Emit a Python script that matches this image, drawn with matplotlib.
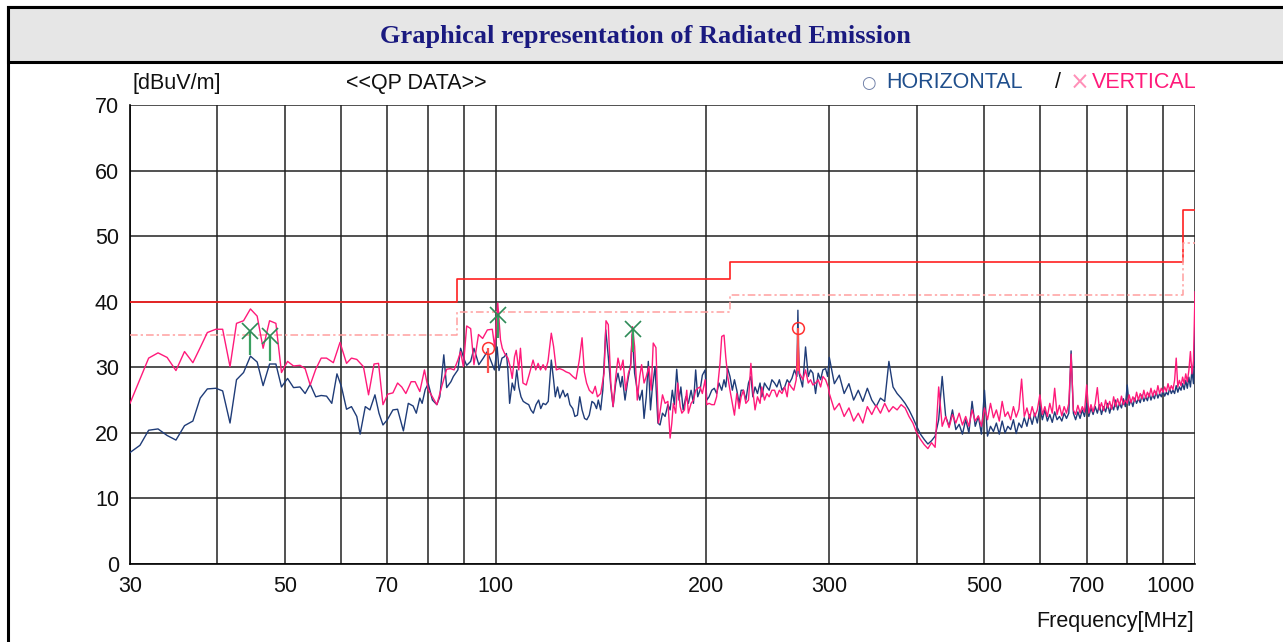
import matplotlib
matplotlib.use("Agg")
import matplotlib.pyplot as plt
from matplotlib.patches import Rectangle
from matplotlib.ticker import NullLocator, FixedLocator, FixedFormatter

plt.rcParams['font.family'] = ['Liberation Sans', 'DejaVu Sans']

# ---------------- data ----------------
# Horizontal polarisation (peak scan) below 300 MHz
h_freq = [30.0, 31.0, 31.9, 32.9, 33.9, 34.9, 35.9, 36.9, 37.8, 38.7, 39.8, 40.7, 41.7, 42.6, 43.6, 44.6,
          45.6, 46.5, 47.5, 48.5, 49.4, 50.4, 51.4, 52.5, 53.4, 54.3, 55.3, 56.3, 57.3, 58.3, 59.3, 60.2,
          61.2, 62.2, 63.3, 64.0, 65.1, 66.1, 67.2, 68.1, 69.0, 70.0, 71.3, 72.4, 73.8, 75.0, 76.2, 77.0,
          77.9, 78.5, 79.3, 80.1, 81.2, 82.4, 83.2, 84.3, 85.1, 86.3, 87.0, 88.3, 89.1, 90.3, 90.9, 92.1,
          93.1, 94.6, 96.0, 97.3, 98.1, 99.6, 100.5, 101.1, 102.1, 102.9, 103.6, 104.1, 104.7, 105.6, 106.4,
          107.2, 107.9, 108.7, 109.5, 110.6, 111.5, 112.3, 113.2, 114.2, 115.2, 116.0, 116.9, 117.9, 118.9,
          120.1, 121.0, 121.7, 122.6, 123.5, 124.8, 125.7, 126.7, 127.7, 128.9, 129.8, 130.9, 131.9, 132.9,
          134.0, 135.0, 136.1, 137.3, 138.4, 139.4, 140.2, 141.3, 142.3, 143.7, 144.9, 146.1, 147.2, 148.5,
          149.6, 150.9, 151.7, 153.1, 154.3, 156.0, 156.8, 158.0, 159.4, 160.7, 162.0, 163.0, 164.2, 165.3,
          166.5, 167.4, 169.0, 170.6, 171.8, 173.2, 174.7, 176.3, 177.6, 178.9, 180.1, 181.5, 182.9, 184.0,
          185.4, 187.0, 188.6, 190.3, 191.8, 193.2, 194.5, 196.0, 197.5, 199.3, 200.4, 201.9, 203.7, 205.4,
          207.0, 208.6, 210.5, 212.1, 213.3, 214.7, 216.3, 218.0, 219.5, 221.2, 222.9, 224.4, 226.1, 227.9,
          229.9, 231.7, 233.2, 234.9, 236.8, 238.8, 240.2, 242.3, 244.2, 246.1, 248.3, 250.5, 252.4, 254.5,
          256.7, 259.0, 261.1, 263.0, 265.2, 267.5, 269.6, 270.5, 271.5, 274.7, 277.4, 279.9, 282.0, 284.2,
          286.7, 289.2, 291.5, 293.7, 296.3, 298.3, 300.0]
h_level = [17.0, 18.1, 20.4, 20.6, 19.6, 18.9, 21.1, 21.8, 25.3, 26.7, 26.8, 26.4, 21.5, 28.1, 29.2, 31.7,
           30.8, 27.2, 30.5, 30.5, 27.0, 28.3, 26.9, 27.0, 26.0, 27.4, 25.5, 25.7, 25.6, 24.5, 29.0, 27.0,
           23.6, 24.0, 22.5, 19.8, 24.0, 23.5, 25.8, 23.0, 21.2, 22.0, 23.5, 23.6, 20.3, 24.5, 24.1, 23.0,
           25.3, 24.5, 26.6, 27.5, 25.0, 24.3, 25.5, 31.9, 26.9, 27.8, 28.6, 29.6, 32.9, 31.0, 30.3, 30.9,
           32.9, 30.4, 31.4, 32.4, 31.4, 29.6, 33.1, 29.5, 31.4, 31.6, 32.1, 29.6, 24.5, 27.6, 26.5,
           29.6, 27.0, 25.5, 24.8, 24.5, 24.3, 23.5, 23.0, 24.3, 25.0, 23.7, 24.5, 24.3, 24.8,
           31.1, 28.1, 25.5, 27.0, 25.3, 26.5, 25.5, 26.0, 24.3, 23.7, 22.5, 22.7, 25.5, 23.5,
           22.2, 22.0, 22.7, 24.8, 24.5, 23.7, 25.0, 23.5, 26.5, 35.7, 31.6, 27.0, 24.0, 27.6,
           29.1, 27.0, 28.6, 25.0, 27.6, 30.6, 35.0, 29.1, 26.5, 25.0, 26.5, 22.2, 25.5, 30.9,
           23.5, 26.5, 30.1, 21.5, 21.2, 23.0, 22.5, 24.3, 23.5, 26.5, 24.3, 29.7, 25.0, 27.0,
           23.5, 25.5, 24.5, 26.5, 24.5, 29.6, 25.5, 26.5, 28.8, 29.6, 25.0, 25.5, 26.5, 26.8,
           26.0, 27.6, 26.5, 28.1, 27.0, 29.8, 28.6, 26.5, 28.1, 26.5, 24.5, 26.5, 26.5, 25.0,
           27.6, 28.6, 25.5, 27.0, 26.0, 27.6, 25.5, 27.6, 27.0, 26.5, 28.1, 27.6, 27.0, 28.1,
           26.5, 27.0, 28.1, 27.6, 28.3, 29.6, 28.6, 38.7, 29.1, 27.0, 33.1, 28.6, 29.6, 29.1,
           26.0, 29.1, 28.1, 29.6, 29.8, 28.6, 31.5]

# Vertical polarisation (peak scan) below 300 MHz
v_freq = [30.0, 31.9, 32.9, 33.9, 34.9, 35.9, 36.9, 37.8, 38.7, 39.8, 40.7, 41.7, 42.6, 43.6, 44.6, 45.6,
          46.5, 47.5, 48.5, 49.4, 50.4, 51.4, 52.5, 53.4, 54.3, 55.3, 56.3, 57.3, 58.6, 59.9, 61.2, 62.2,
          63.3, 64.7, 65.8, 67.0, 68.0, 69.0, 70.1, 71.3, 72.4, 73.4, 74.4, 75.7, 76.7, 77.9, 79.1, 80.1,
          81.2, 82.4, 83.7, 85.1, 86.2, 87.2, 88.3, 89.1, 89.9, 90.9, 92.1, 93.1, 94.5, 95.8, 97.3, 98.9,
          99.7, 100.7, 101.6, 102.2, 103.0, 104.1, 104.9, 105.6, 106.4, 107.0, 107.9, 108.5, 109.4, 110.6,
          111.8, 113.1, 114.1, 115.0, 115.9, 116.9, 117.9, 118.8, 120.1, 121.0, 122.1, 123.4, 124.8, 126.1,
          127.5, 128.9, 130.3, 131.7, 132.9, 133.9, 134.9, 136.1, 137.6, 138.8, 139.8, 141.3, 142.9, 143.8,
          144.9, 146.1, 147.2, 148.5, 149.6, 150.9, 152.1, 153.4, 154.8, 156.0, 156.9, 158.0, 159.4, 160.7,
          161.7, 163.0, 164.2, 165.6, 166.9, 168.0, 169.5, 170.9, 173.2, 174.7, 176.3, 177.6, 178.6, 179.5,
          180.9, 182.1, 183.6, 184.6, 186.2, 187.6, 188.6, 190.3, 191.8, 193.2, 194.5, 196.0, 197.5, 199.3,
          200.4, 201.9, 203.7, 205.4, 207.0, 209.3, 210.5, 212.1, 213.3, 214.7, 216.3, 218.0, 219.5, 221.2,
          222.9, 224.4, 226.1, 227.9, 229.9, 231.7, 233.2, 234.9, 236.8, 238.8, 240.2, 242.3, 244.2, 246.1,
          248.3, 250.5, 252.4, 254.5, 256.7, 259.0, 261.1, 262.5, 264.6, 266.9, 269.0, 270.5, 272.0, 275.0,
          277.4, 279.9, 282.0, 284.2, 286.7, 289.2, 291.5, 293.7, 296.3, 298.9, 300.0]
v_level = [24.5, 31.4, 32.2, 31.5, 29.5, 32.4, 30.7, 33.0, 35.3, 35.8, 35.8, 30.1, 36.7, 37.1, 38.9, 37.8,
           32.9, 37.1, 36.7, 29.2, 30.9, 30.2, 30.3, 29.8, 27.3, 29.7, 31.4, 31.4, 30.7, 33.8, 30.6, 31.4,
           31.2, 30.1, 25.8, 30.5, 30.6, 24.3, 25.9, 26.1, 27.6, 27.0, 26.0, 27.8, 27.8, 26.3, 29.6, 26.6,
           25.5, 24.3, 27.0, 29.7, 29.8, 29.6, 31.1, 32.4, 30.1, 36.3, 35.9, 30.4, 35.0, 34.4, 35.7, 35.8,
           33.0, 39.8, 34.2, 32.9, 32.1, 31.4, 30.1, 28.3, 31.6, 32.6, 29.6, 32.9, 27.6, 27.3,
           29.1, 31.1, 29.6, 30.6, 29.6, 30.4, 29.6, 30.9, 35.2, 33.2, 29.6, 29.8, 29.6, 29.3,
           29.1, 28.6, 28.2, 31.1, 34.5, 29.3, 27.6, 26.5, 26.0, 27.1, 25.5, 26.0, 29.1, 37.1,
           36.5, 27.6, 24.0, 28.6, 31.4, 29.6, 31.1, 26.5, 29.1, 30.1, 36.2, 33.2, 25.0, 28.6,
           30.4, 27.6, 28.6, 30.1, 26.5, 33.7, 33.0, 21.5, 25.8, 24.5, 24.8, 19.2, 21.5, 24.5,
           23.0, 27.6, 24.0, 23.0, 23.5, 26.5, 23.0, 24.5, 25.0, 26.5, 26.8, 27.0, 26.0, 28.1,
           24.3, 24.5, 24.3, 24.3, 25.5, 30.6, 34.7, 34.9, 31.6, 28.6, 26.5, 24.5, 22.7, 26.0,
           23.7, 25.5, 26.5, 24.5, 25.0, 30.6, 26.5, 23.5, 25.5, 24.5, 27.0, 25.0, 26.0, 25.5,
           26.5, 26.5, 25.5, 26.5, 26.0, 27.0, 25.5, 27.6, 27.0, 26.5, 28.1, 34.5, 29.1, 28.1,
           29.6, 27.6, 28.1, 27.3, 27.6, 28.1, 27.0, 28.6, 28.1, 27.0, 26.0]

# Both polarisations above 300 MHz (5 MHz sample spacing)
hi_freq = [305, 310, 315, 320, 325, 330, 335, 340, 345, 350, 355, 360, 365, 370, 375, 380, 385, 390, 395, 400,
           405, 410, 415, 420, 425, 430, 435, 440, 445, 450, 455, 460, 465, 470, 475, 480, 485, 490, 495, 500,
           505, 510, 515, 520, 525, 530, 535, 540, 545, 550, 555, 560, 565, 570, 575, 580, 585, 590, 595, 600,
           605, 610, 615, 620, 625, 630, 635, 640, 645, 650, 655, 660, 665, 670, 675, 680, 685, 690, 695, 700,
           705, 710, 715, 720, 725, 730, 735, 740, 745, 750, 755, 760, 765, 770, 775, 780, 785, 790, 795, 800,
           805, 810, 815, 820, 825, 830, 835, 840, 845, 850, 855, 860, 865, 870, 875, 880, 885, 890, 895, 900,
           905, 910, 915, 920, 925, 930, 935, 940, 945, 950, 955, 960, 965, 970, 975, 980, 985, 990, 995, 1000]
h_hi = [27.5, 28.8, 26.0, 27.5, 25.0, 26.5, 24.8, 26.8, 25.0, 24.0, 25.3, 24.8, 30.9, 27.0, 26.0, 25.3, 24.5, 23.5, 22.3, 21.0,
        19.8, 19.0, 18.3, 18.8, 19.5, 22.0, 28.6, 22.5, 21.0, 23.5, 20.5, 21.3, 19.8, 22.0, 20.0, 24.8, 21.0, 22.5, 19.8, 26.5,
        19.5, 21.0, 20.2, 21.5, 19.8, 21.8, 20.0, 21.0, 20.5, 22.0, 19.9, 21.5, 20.8, 22.3, 21.0, 22.8, 21.3, 23.0, 21.5, 24.0,
        22.0, 23.5, 21.8, 22.8, 21.6, 23.2, 22.0, 22.5, 21.8, 23.0, 22.2, 23.0, 32.5, 23.0, 22.0, 23.2, 22.2, 23.5, 22.5, 24.5,
        22.5, 23.8, 22.8, 24.0, 23.0, 24.3, 22.8, 24.0, 23.2, 24.5, 23.0, 24.2, 23.5, 25.0, 23.5, 24.5, 23.8, 25.2, 24.0, 27.3,
        24.2, 25.0, 24.0, 25.3, 24.5, 25.2, 24.6, 25.8, 24.8, 25.5, 24.9, 26.0, 25.0, 25.8, 25.2, 26.3, 25.3, 26.0, 25.5, 26.5,
        25.6, 26.2, 25.8, 26.8, 26.0, 26.5, 26.0, 27.2, 26.2, 27.0, 26.5, 27.5, 26.6, 28.0, 26.8, 28.5, 27.0, 29.5, 27.5, 36.0]
v_hi = [23.5, 24.5, 22.5, 23.8, 21.8, 23.0, 21.5, 24.0, 22.8, 24.2, 23.0, 24.5, 23.2, 24.0, 23.5, 24.3, 23.8, 22.5, 21.5, 20.0,
        19.0, 18.2, 17.6, 18.5, 17.8, 27.0, 21.0, 22.5, 20.8, 22.8, 21.5, 23.0, 21.2, 22.5, 21.0, 23.5, 21.8, 22.6, 21.0, 23.8,
        22.0, 24.5, 22.3, 23.5, 21.8, 24.8, 22.5, 23.2, 22.0, 24.0, 22.4, 23.6, 28.2, 22.5, 23.8, 22.2, 24.0, 22.5, 23.5, 25.8,
        22.8, 24.0, 22.5, 24.5, 23.0, 26.8, 22.8, 24.2, 22.6, 24.0, 23.0, 24.5, 32.0, 23.5, 22.8, 24.2, 23.0, 24.0, 23.2, 27.3,
        23.0, 24.3, 23.2, 24.5, 26.9, 23.5, 24.6, 23.4, 25.0, 23.8, 24.8, 23.6, 25.5, 24.0, 25.2, 24.2, 25.6, 24.3, 25.0, 24.5,
        25.8, 24.6, 25.5, 24.8, 26.2, 25.0, 26.0, 25.2, 26.5, 25.3, 26.2, 25.5, 26.8, 25.6, 26.5, 25.8, 27.2, 26.0, 26.8, 26.2,
        27.0, 26.3, 27.5, 26.5, 27.2, 26.6, 28.0, 31.4, 27.0, 28.0, 27.2, 28.5, 27.5, 29.0, 27.8, 29.5, 32.4, 29.0, 31.0, 41.5]

# Limit (FCC class B, 3 m) and limit - margin
limit_edges = [30, 88, 216, 960, 1000]
limit_levels = [40, 43.5, 46, 54]
margin_levels = [35, 38.5, 41, 49]

# Quasi-peak results: vertical (x) and horizontal (o); stems go to the scan level
qp_v_freq = [44.6, 47.6, 100.7, 157.1]
qp_v_level = [35.6, 34.8, 38.0, 35.8]
qp_v_scan = [31.9, 31.0, 34.4, 32.4]
qp_h_freq = [97.6, 270.5]
qp_h_level = [32.9, 36.0]
qp_h_scan = [29.1, 29.5]

grid_freqs = [30, 40, 50, 60, 70, 80, 90, 100, 200, 300, 400, 500, 600, 700, 800, 900, 1000]
tick_labels = {30: '30', 50: '50', 70: '70', 100: '100', 200: '200', 300: '300',
               500: '500', 700: '700', 1000: '1000'}
y_ticks = [0, 10, 20, 30, 40, 50, 60, 70]

# ---------------- figure ----------------
W, H = 1283, 642
FS = 15.5
fig = plt.figure(figsize=(W / 100, H / 100), dpi=100)


def fx(px):
    return px / W


def fy(py):
    return 1 - py / H


# outer frame and title bar
fig.patches.append(Rectangle((fx(8), fy(645)), fx(1290) - fx(8), fy(7) - fy(645),
                             transform=fig.transFigure, fill=False, lw=2.2, ec='black'))
fig.patches.append(Rectangle((fx(8), fy(62)), fx(1290) - fx(8), fy(7) - fy(62),
                             transform=fig.transFigure, facecolor='#e6e6e6', lw=2.2, ec='black'))
fig.text(fx(645), fy(36), 'Graphical representation of Radiated Emission',
         ha='center', va='center', fontsize=19, fontweight='bold',
         family=['Liberation Serif', 'DejaVu Serif'], color='#1a1a80')

ax = fig.add_axes([fx(130), fy(564), fx(1195) - fx(130), fy(105) - fy(564)])
ax.set_xscale('log')
ax.set_xlim(30, 1000)
ax.set_ylim(0, 70)

ax.xaxis.set_major_locator(FixedLocator(grid_freqs))
ax.xaxis.set_major_formatter(FixedFormatter([tick_labels.get(f, '') for f in grid_freqs]))
ax.xaxis.set_minor_locator(NullLocator())
ax.set_yticks(y_ticks)
ax.tick_params(axis='both', length=0, labelsize=FS, colors='#111111')
ax.tick_params(axis='x', pad=9)
ax.tick_params(axis='y', pad=8)
for lab in ax.get_xticklabels():
    if lab.get_text() == '1000':
        lab.set_horizontalalignment('right')

ax.grid(True, which='major', color='#222222', lw=1.1)
ax.set_axisbelow(True)
for s in ['top', 'right']:
    ax.spines[s].set_visible(False)
ax.spines['left'].set_linewidth(1.2)
ax.spines['bottom'].set_linewidth(1.2)

# limit lines
ax.step(limit_edges, limit_levels + [limit_levels[-1]], where='post', color='#ff2020', lw=1.2, zorder=3)
ax.step(limit_edges, margin_levels + [margin_levels[-1]], where='post', color='#ff9f9f', lw=1.1,
        linestyle=(0, (5, 2, 1.5, 2)), zorder=3)

# traces
ax.plot(h_freq + hi_freq, h_level + h_hi, color='#1f3c78', lw=1.0, zorder=4)
ax.plot(v_freq + hi_freq, v_level + v_hi, color='#ff1a7a', lw=1.0, zorder=5)

# QP markers
ax.vlines(qp_v_freq, qp_v_scan, qp_v_level, color='#3aa060', lw=1.6, zorder=6)
ax.plot(qp_v_freq, qp_v_level, linestyle='none', marker='x', ms=11, mew=1.2, color='#2e8b57', zorder=7)
ax.vlines(qp_h_freq, qp_h_scan, qp_h_level, color='#ff5050', lw=1.6, zorder=6)
ax.plot(qp_h_freq, qp_h_level, linestyle='none', marker='o', ms=8.5, mew=1.1, mfc='none',
        mec='#ff3030', zorder=7)

# header texts
fig.text(fx(133), fy(83), '[dBuV/m]', ha='left', va='center', fontsize=FS, color='#111111')
fig.text(fx(346), fy(83), '<<QP DATA>>', ha='left', va='center', fontsize=FS, color='#111111')
fig.text(fx(861), fy(83), '○', ha='left', va='center', fontsize=12, color='#7080a8',
         family=['DejaVu Sans'])
fig.text(fx(886), fy(83), 'HORIZONTAL', ha='left', va='center', fontsize=FS, color='#1f4e8c')
fig.text(fx(1055), fy(83), '/', ha='left', va='center', fontsize=FS, color='#111111')
fig.text(fx(1070), fy(83), '×', ha='left', va='center', fontsize=17, color='#ff90b8',
         family=['DejaVu Sans'])
fig.text(fx(1092), fy(83), 'VERTICAL', ha='left', va='center', fontsize=FS, color='#ff1a7a')
fig.text(fx(1194), fy(622), 'Frequency[MHz]', ha='right', va='center', fontsize=FS, color='#111111')

fig.savefig('out.png', dpi=100)
